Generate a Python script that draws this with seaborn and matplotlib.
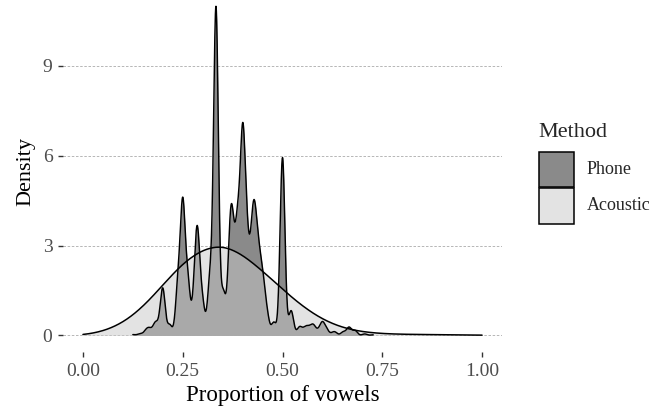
import numpy as np
import pandas as pd
import seaborn as sns
import matplotlib
matplotlib.use("Agg")
import matplotlib.pyplot as plt
from matplotlib.patches import Rectangle

# proportion of vowels per word (phone transcription) and share of words in %
phone_props = [0.1250, 0.1429, 0.1579, 0.1667, 0.1765, 0.1818, 0.1905, 0.2000, 0.2174, 0.2381, 0.2500, 0.2609,
               0.2632, 0.2778, 0.2857, 0.2917, 0.3000, 0.3182, 0.3333, 0.3500, 0.3529, 0.3684, 0.3750, 0.3846,
               0.3889, 0.4000, 0.4091, 0.4118, 0.4211, 0.4286, 0.4375, 0.4444, 0.4500, 0.4545, 0.4583, 0.4615,
               0.4783, 0.5000, 0.5217, 0.5417, 0.5455, 0.5556, 0.5625, 0.5714, 0.5789, 0.5909, 0.6000, 0.6087,
               0.6111, 0.6250, 0.6316, 0.6522, 0.6667, 0.6818, 0.7059, 0.7273]
phone_pct = [0.04, 0.08, 0.20, 0.26, 0.08, 0.48, 0.20, 2.10, 0.48, 2.19, 5.70, 0.79,
             1.62, 0.99, 3.87, 1.06, 1.21, 2.48, 14.86, 0.96, 1.01, 3.50, 3.20, 1.67,
             3.30, 8.00, 2.61, 1.36, 2.27, 4.15, 2.78, 1.06, 1.75, 0.12, 0.36, 0.61,
             0.59, 8.10, 1.12, 0.27, 0.13, 0.23, 0.24, 0.26, 0.34, 0.17, 0.52, 0.10,
             0.15, 0.07, 0.13, 0.16, 0.37, 0.22, 0.07, 0.03]

# acoustic estimate, binned
acoustic_props = [0.00, 0.05, 0.10, 0.15, 0.20, 0.25, 0.30, 0.35, 0.40, 0.45, 0.50,
                  0.55, 0.60, 0.65, 0.70, 0.75, 0.80, 0.85, 0.90, 0.95, 1.00]
acoustic_pct = [0.05, 0.62, 2.01, 4.65, 8.40, 12.20, 14.50, 15.30, 13.60, 10.80, 7.71,
                4.83, 2.62, 1.25, 0.58, 0.30, 0.20, 0.16, 0.13, 0.10, 0.06]

methods = ["Phone", "Acoustic"]
x_ticks = [0.00, 0.25, 0.50, 0.75, 1.00]
x_labels = ["0.00", "0.25", "0.50", "0.75", "1.00"]
y_ticks = [0, 3, 6, 9]

PHONE_COL = "#8a8a8a"
ACOUSTIC_COL = "#c9c9c9"


def bw_for(values, weights, sigma):
    # seaborn/scipy scale the bandwidth by the weighted std of the data
    return sigma / np.sqrt(np.cov(values, aweights=weights))


sns.set_theme(style="white")
plt.rcParams['font.family'] = ['Liberation Serif', 'DejaVu Serif']

W, H = 652, 408
fig = plt.figure(figsize=(W / 100, H / 100), dpi=100)
# panel: x 63..502 px, y -8.6..351.8 px (top slightly above the image, as in the source)
ax = fig.add_axes([63 / W, (H - 351.8) / H, 439 / W, 360.4 / H])

phone = pd.DataFrame({"prop": phone_props, "w": phone_pct})
acoustic = pd.DataFrame({"prop": acoustic_props, "w": acoustic_pct})
bw_p = bw_for(phone_props, phone_pct, 0.006)
bw_a = bw_for(acoustic_props, acoustic_pct, 0.035)

sns.kdeplot(data=phone, x="prop", weights="w", bw_method=bw_p, cut=0, gridsize=3000,
            fill=True, color=PHONE_COL, alpha=1, linewidth=0, ax=ax)
sns.kdeplot(data=phone, x="prop", weights="w", bw_method=bw_p, cut=0, gridsize=3000,
            color="black", linewidth=1.05, ax=ax)
sns.kdeplot(data=acoustic, x="prop", weights="w", bw_method=bw_a, cut=0, gridsize=500,
            fill=True, color=ACOUSTIC_COL, alpha=0.5, linewidth=0, ax=ax)
sns.kdeplot(data=acoustic, x="prop", weights="w", bw_method=bw_a, cut=0, gridsize=500,
            color="black", linewidth=1.1, ax=ax)

ax.set_xlim(-0.05, 1.05)
ax.set_ylim(-0.545, 11.49)
ax.set_xticks(x_ticks)
ax.set_xticklabels(x_labels)
ax.set_yticks(y_ticks)
for s in ax.spines.values():
    s.set_visible(False)
ax.set_axisbelow(True)
ax.yaxis.grid(True, linestyle=(0, (3, 2)), color="#ababab", linewidth=0.6)
ax.xaxis.grid(False)
ax.tick_params(axis="both", bottom=True, left=True, length=3.6, width=1.0, color="#333333",
               labelcolor="#4d4d4d", labelsize=14)
ax.tick_params(axis="x", pad=4.5)
ax.tick_params(axis="y", pad=4)
ax.set_xlabel("Proportion of vowels", fontsize=16.5, color="black", labelpad=3.5)
ax.set_ylabel("Density", fontsize=16, color="black", labelpad=5)


def fx(px):
    return px / W


def fy(py):
    return (H - py) / H


# legend, drawn by hand to follow the ggplot guide layout
fig.text(fx(538), fy(137), "Method", fontsize=16, va="baseline", ha="left")
fills = [PHONE_COL, (0.79, 0.79, 0.79, 0.5)]
tops = [151.7, 188.3]
for name, fc, top in zip(methods, fills, tops):
    fig.patches.append(Rectangle((fx(538.5), fy(top + 35.5)), 35 / W, 35.5 / H, transform=fig.transFigure,
                                 facecolor=fc, edgecolor="black", linewidth=1.1))
    fig.text(fx(586.5), fy(top + 17.5), name, fontsize=13, va="center", ha="left")

fig.savefig("out.png", dpi=100)
